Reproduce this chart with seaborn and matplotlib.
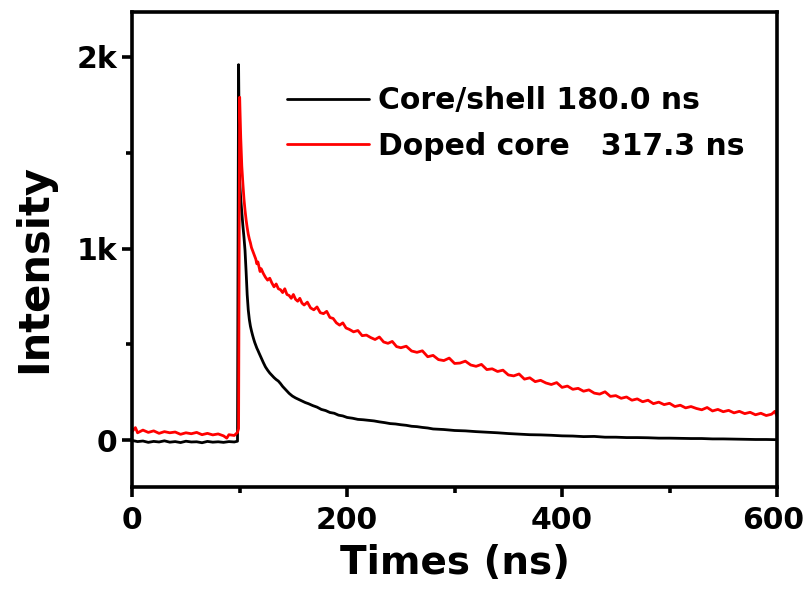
"""
Fluorescence decay curves: core/shell vs doped core.
"""

import matplotlib
matplotlib.use("Agg")
import matplotlib.pyplot as plt
import matplotlib.transforms as mtransforms
import seaborn as sns
from matplotlib.ticker import MultipleLocator

# core/shell (black)
t_cs = [0, 5, 10, 15, 20, 25, 30, 35, 40, 45, 50, 55, 60, 65, 70, 75, 80, 85, 90, 95, 98,
        99, 100, 101, 102, 103, 104, 105, 106, 107, 108, 109, 110, 111, 112, 113, 114, 115,
        116, 117, 118, 120, 122, 124, 126, 128, 130, 132, 134, 136, 138, 140, 143, 146, 149,
        152, 155, 158, 161, 164, 168, 172, 176, 180, 184, 188, 192, 196, 200, 205, 210, 215,
        220, 225, 230, 235, 240, 245, 250, 255, 260, 265, 270, 275, 280, 290, 300, 310, 320,
        330, 340, 350, 360, 370, 380, 390, 400, 410, 420, 430, 440, 450, 460, 470, 480, 490,
        500, 510, 520, 530, 540, 550, 560, 570, 580, 590, 600]
i_cs = [-2, -8, -5, -12, -7, -10, -4, -11, -8, -13, -6, -10, -9, -14, -7, -11, -9, -12, -8, -10, -6,
        1960, 1350, 1260, 1190, 1120, 1060, 990, 880, 760, 680, 630, 595, 570, 548, 528, 510, 495,
        480, 468, 455, 430, 405, 382, 365, 350, 338, 326, 316, 308, 295, 280, 262, 244, 230,
        220, 212, 204, 196, 190, 180, 172, 160, 154, 144, 140, 130, 126, 118, 114, 108, 106,
        103, 100, 95, 91, 86, 84, 80, 77, 72, 70, 66, 63, 58, 55, 50, 48, 44,
        41, 38, 34, 31, 28, 27, 25, 22, 21, 18, 19, 15, 15, 13, 13, 12, 10,
        10, 9, 8, 8, 6, 6, 5, 4, 3, 3, 2]

# doped core (red)
t_dc = [0, 3, 5, 10, 15, 20, 25, 30, 35, 40, 45, 50, 55, 60, 65, 70, 75, 80, 85, 88, 90, 95, 98, 99,
        100, 101, 102, 103, 104, 105, 106, 107, 108, 109, 110, 111, 112, 113, 114, 115, 116, 117,
        118, 119, 120, 122, 124, 126, 128, 130, 132, 134, 136, 138, 140, 142, 144, 146, 148, 150,
        152, 154, 156, 158, 160, 163, 166, 169, 172, 175, 178, 181, 184, 187, 190, 193, 196, 199,
        202, 206, 210, 214, 218, 222, 226, 230, 234, 238, 242, 246, 250, 255, 260, 265, 270, 275,
        280, 285, 290, 295, 300, 305, 310, 315, 320, 325, 330, 335, 340, 345, 350, 355, 360, 365,
        370, 375, 380, 385, 390, 395, 400, 405, 410, 415, 420, 425, 430, 435, 440, 445, 450, 455,
        460, 465, 470, 475, 480, 485, 490, 495, 500, 505, 510, 515, 520, 525, 530, 535, 540, 545,
        550, 555, 560, 565, 570, 575, 580, 585, 590, 595, 598, 600]
i_dc = [45, 65, 38, 52, 40, 48, 35, 44, 38, 42, 30, 38, 33, 40, 28, 35, 27, 32, 22, 10, 28, 24, 40, 60,
        1790, 1580, 1430, 1340, 1260, 1200, 1150, 1110, 1075, 1050, 1030, 1005, 990, 975, 960, 945, 920, 930,
        905, 880, 895, 870, 850, 835, 845, 820, 800, 815, 790, 785, 770, 790, 760, 755, 740, 760,
        735, 725, 740, 715, 705, 720, 690, 680, 695, 665, 660, 672, 640, 635, 612, 600, 612, 585,
        578, 565, 572, 545, 548, 535, 525, 538, 512, 505, 515, 488, 482, 490, 465, 458, 466, 435,
        442, 420, 415, 428, 400, 402, 412, 392, 385, 395, 368, 372, 358, 365, 340, 335, 345, 318,
        325, 305, 312, 298, 290, 300, 275, 282, 265, 270, 255, 262, 245, 240, 252, 228, 232, 218,
        225, 208, 215, 200, 208, 190, 198, 185, 192, 175, 182, 168, 175, 165, 158, 170, 152, 160,
        148, 155, 142, 150, 138, 145, 132, 140, 128, 135, 150, 125]

labels = ["Core/shell 180.0 ns", "Doped core   317.3 ns"]
y_ticks = [0, 1000, 2000]
y_ticklabels = ["0", "1k", "2k"]
x_ticks = [0, 200, 400, 600]

sns.set_style("ticks")
plt.rcParams["font.family"] = ["DejaVu Sans"]
plt.rcParams["font.weight"] = "bold"
plt.rcParams["text.color"] = "black"
plt.rcParams["axes.labelcolor"] = "black"
plt.rcParams["axes.edgecolor"] = "black"
plt.rcParams["xtick.color"] = "black"
plt.rcParams["ytick.color"] = "black"

fig = plt.figure(figsize=(8.06, 5.99), dpi=100)
ax = fig.add_axes([0.164, 0.187, 0.8, 0.793])

sns.lineplot(x=t_cs, y=i_cs, color="black", lw=2, label=labels[0], ax=ax, estimator=None)
sns.lineplot(x=t_dc, y=i_dc, color="#ff0000", lw=2, label=labels[1], ax=ax, estimator=None)

ax.set_xlim(0, 600)
ax.set_ylim(-245, 2235)
ax.set_xticks(x_ticks)
ax.set_yticks(y_ticks)
ax.set_yticklabels(y_ticklabels)
ax.xaxis.set_minor_locator(MultipleLocator(100))
ax.yaxis.set_minor_locator(MultipleLocator(500))

for s in ax.spines.values():
    s.set_linewidth(2.6)
    s.set_visible(True)
ax.tick_params(which="major", length=7, width=2.6, labelsize=21.5, pad=4)
ax.tick_params(axis="x", which="major", pad=7)
ax.tick_params(which="minor", length=4, width=2.6)
for lab in ax.get_xticklabels() + ax.get_yticklabels():
    lab.set_fontweight("bold")

# the "600" label sits right on the figure edge, nudge it in a little
last = ax.get_xticklabels()[-1]
last.set_transform(last.get_transform() + mtransforms.ScaledTranslation(-4 / 100, 0, fig.dpi_scale_trans))

ax.set_xlabel("Times (ns)", fontsize=28, fontweight="bold", labelpad=6)
ax.set_ylabel("Intensity", fontsize=30, fontweight="bold")
ax.yaxis.set_label_coords(-0.12, 0.461)

leg = ax.legend(loc="upper left", bbox_to_anchor=(0.221, 0.869), frameon=False,
                prop={"size": 21.5, "weight": "bold"}, handlelength=2.75,
                handletextpad=0.3, labelspacing=0.55, borderaxespad=0)
for line in leg.get_lines():
    line.set_linewidth(2)

fig.savefig("out.png", dpi=100)
